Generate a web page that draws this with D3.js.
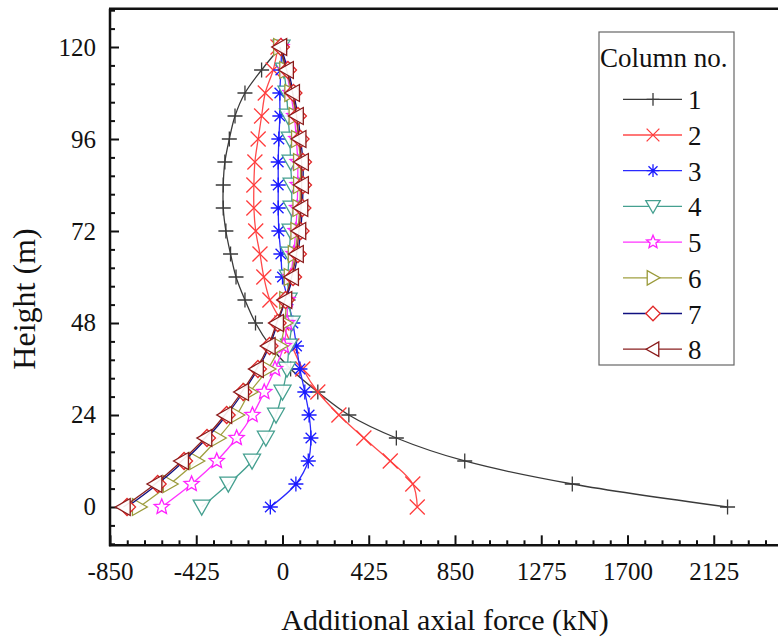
<!DOCTYPE html>
<html>
<head>
<meta charset="utf-8">
<script src="https://cdn.jsdelivr.net/npm/d3@7"></script>
<style>
  html, body { margin: 0; padding: 0; background: #fff; }
  svg { display: block; }
  text { font-family: "Liberation Serif", "Times New Roman", serif; fill: #111; }
</style>
</head>
<body>
<svg id="chart" width="778" height="639"></svg>
<script>
// Heights of the measured storeys (m)
const heights = [0, 6, 12, 18, 24, 30, 36, 42, 48, 54, 60, 66, 72, 78, 84, 90, 96, 102, 108, 114, 120];

// Additional axial force (kN) per column, bottom to top
const col1 = [2193, 1428, 898, 561, 327, 174, 40, -60, -133, -185, -229, -256, -279, -292, -292, -284, -262, -234, -185, -103, -10];
const col2 = [664, 642, 531, 401, 278, 174, 100, 46, -3, -62, -92, -111, -132, -141, -141, -136, -120, -103, -85, -46, -22];
const col3 = [-60, 66, 127, 140, 131, 110, 86, 69, 51, 27, 0, -8, -18, -21, -21, -21, -18, -13, -13, -8, -4];
const col4 = [-398, -267, -150, -82, -32, 0, 22, 32, 45, 30, 27, 33, 40, 45, 45, 40, 36, 27, 20, 7, -5];
const col5 = [-595, -448, -324, -226, -148, -90, -37, 6, 22, 25, 40, 55, 65, 72, 75, 75, 68, 58, 40, 18, -5];
const col6 = [-706, -554, -423, -317, -226, -160, -72, -13, 12, 20, 42, 62, 75, 85, 88, 88, 78, 66, 45, 20, -10];
const col7 = [-766, -615, -485, -372, -275, -193, -121, -64, -24, 15, 52, 76, 89, 98, 101, 101, 89, 76, 54, 27, -8];
const col8 = [-784, -628, -497, -382, -284, -201, -128, -70, -29, 12, 45, 69, 81, 91, 94, 94, 82, 69, 50, 20, -13];

const columnNames = ["1", "2", "3", "4", "5", "6", "7", "8"];
const xTicks = [-850, -425, 0, 425, 850, 1275, 1700, 2125];
const yTicks = [0, 24, 48, 72, 96, 120];

const legendTitle = "Column no.";
const xTitle = "Additional axial force (kN)";
const yTitle = "Height (m)";

// Styling for each column's curve and marker
const styles = [
  { line: "#3a3a3a", mark: "#3a3a3a", shape: "plus" },
  { line: "#ff4a4a", mark: "#ff3b3b", shape: "cross" },
  { line: "#2a2aff", mark: "#1a1aff", shape: "aster" },
  { line: "#45a090", mark: "#45a090", shape: "tridown" },
  { line: "#ff33ff", mark: "#ff22ff", shape: "star" },
  { line: "#a0a040", mark: "#9a9a3a", shape: "triright" },
  { line: "#101080", mark: "#e02828", shape: "diamond" },
  { line: "#8a2020", mark: "#8a1a1a", shape: "trileft" }
];
const seriesValues = [col1, col2, col3, col4, col5, col6, col7, col8];

const svg = d3.select("#chart");

const x = d3.scaleLinear().domain([-850, 2550]).range([110, 800]);
const y = d3.scaleLinear().domain([-10, 130]).range([545.33, 8.67]);

const plotLeft = x(-850), plotBottom = y(-10), plotTop = y(130);

// Marker path builders (centred on 0,0)
function markerPath(shape, s) {
  const p = d3.path();
  if (shape === "plus") {
    p.moveTo(-s, 0); p.lineTo(s, 0); p.moveTo(0, -s); p.lineTo(0, s);
  } else if (shape === "cross") {
    p.moveTo(-s, -s); p.lineTo(s, s); p.moveTo(-s, s); p.lineTo(s, -s);
  } else if (shape === "aster") {
    for (let k = 0; k < 4; k++) {
      const a = k * Math.PI / 4;
      p.moveTo(-s * Math.cos(a), -s * Math.sin(a));
      p.lineTo(s * Math.cos(a), s * Math.sin(a));
    }
  } else if (shape === "tridown") {
    p.moveTo(-s, -s * 0.8); p.lineTo(s, -s * 0.8); p.lineTo(0, s * 0.95); p.closePath();
  } else if (shape === "triright") {
    p.moveTo(-s * 0.8, -s); p.lineTo(-s * 0.8, s); p.lineTo(s * 0.95, 0); p.closePath();
  } else if (shape === "trileft") {
    p.moveTo(s * 0.8, -s); p.lineTo(s * 0.8, s); p.lineTo(-s * 0.95, 0); p.closePath();
  } else if (shape === "diamond") {
    p.moveTo(0, -s); p.lineTo(s, 0); p.lineTo(0, s); p.lineTo(-s, 0); p.closePath();
  } else if (shape === "star") {
    const r1 = s, r2 = s * 0.45;
    for (let k = 0; k < 10; k++) {
      const r = k % 2 === 0 ? r1 : r2;
      const a = -Math.PI / 2 + k * Math.PI / 5;
      if (k === 0) p.moveTo(r * Math.cos(a), r * Math.sin(a));
      else p.lineTo(r * Math.cos(a), r * Math.sin(a));
    }
    p.closePath();
  }
  return p.toString();
}
const markerSize = { plus: 7.5, cross: 7.5, aster: 7.5, tridown: 8.5, triright: 8.5, trileft: 8.5, diamond: 8.5, star: 8 };
const filled = { tridown: true, triright: true, trileft: true, diamond: true, star: true };

// Axes: major ticks with labels, minor ticks inward
const yMinor = d3.range(-9.6, 130, 4.8).filter(v => !yTicks.some(t => Math.abs(t - v) < 0.01));
const xMinor = d3.range(-850, 2551, 85).filter(v => !xTicks.includes(v));
const plain = d => String(d);

const axisFont = g => g.attr("font-family", "Liberation Serif, Times New Roman, serif").attr("font-size", 25);

svg.append("g").attr("transform", `translate(${plotLeft},0)`)
  .call(d3.axisLeft(y).tickValues(yTicks).tickFormat(plain).tickSizeInner(-9).tickSizeOuter(0).tickPadding(14))
  .call(axisFont);
svg.append("g").attr("transform", `translate(${plotLeft},0)`)
  .call(d3.axisLeft(y).tickValues(yMinor).tickSizeInner(-5).tickSizeOuter(0).tickFormat(""));

svg.append("g").attr("transform", `translate(0,${plotBottom})`)
  .call(d3.axisBottom(x).tickValues(xTicks).tickFormat(plain).tickSizeInner(-10).tickSizeOuter(0).tickPadding(17))
  .call(axisFont);
svg.append("g").attr("transform", `translate(0,${plotBottom})`)
  .call(d3.axisBottom(x).tickValues(xMinor).tickSizeInner(-5).tickSizeOuter(0).tickFormat(""));

svg.selectAll(".domain").remove();
svg.selectAll(".tick line").attr("stroke", "#111").attr("stroke-width", 2);
svg.selectAll(".tick text").attr("fill", "#111");

// Frame lines
svg.append("line").attr("x1", plotLeft).attr("x2", plotLeft).attr("y1", plotTop).attr("y2", plotBottom + 1)
  .attr("stroke", "#111").attr("stroke-width", 2.5);
svg.append("line").attr("x1", plotLeft - 1).attr("x2", 778).attr("y1", plotBottom).attr("y2", plotBottom)
  .attr("stroke", "#111").attr("stroke-width", 2.5);
svg.append("line").attr("x1", plotLeft - 1).attr("x2", 778).attr("y1", plotTop).attr("y2", plotTop)
  .attr("stroke", "#111").attr("stroke-width", 2.5);

// Curves
const line = d3.line()
  .x(d => x(d.v))
  .y(d => y(d.h))
  .curve(d3.curveCatmullRom.alpha(0.5));

const plot = svg.append("g");
seriesValues.forEach((vals, i) => {
  const st = styles[i];
  const pts = heights.map((h, k) => ({ h, v: vals[k] }));
  const g = plot.append("g");
  g.append("path").datum(pts).attr("d", line)
    .attr("fill", "none").attr("stroke", st.line).attr("stroke-width", 1.3);
  g.selectAll("path.m").data(pts).join("path").attr("class", "m")
    .attr("transform", d => `translate(${x(d.v)},${y(d.h)})`)
    .attr("d", markerPath(st.shape, markerSize[st.shape]))
    .attr("fill", filled[st.shape] ? "#fff" : "none")
    .attr("fill-opacity", filled[st.shape] ? 0.9 : 0)
    .attr("stroke", st.mark).attr("stroke-width", 1.3);
});

// Axis titles
svg.append("text").attr("x", 445).attr("y", 630).attr("text-anchor", "middle")
  .attr("font-size", 30).text(xTitle);
svg.append("text").attr("transform", "translate(35,299) rotate(-90)").attr("text-anchor", "middle")
  .attr("font-size", 32).text(yTitle);

// Legend
const lg = svg.append("g");
lg.append("rect").attr("x", 599).attr("y", 32).attr("width", 135).attr("height", 333)
  .attr("fill", "#fff").attr("stroke", "#666").attr("stroke-width", 1.2);
lg.append("text").attr("x", 600).attr("y", 67).attr("font-size", 27).text(legendTitle);
columnNames.forEach((name, i) => {
  const st = styles[i];
  const ly = 99.3 + i * 35.7;
  lg.append("line").attr("x1", 623).attr("x2", 682).attr("y1", ly).attr("y2", ly)
    .attr("stroke", st.line).attr("stroke-width", 1.3);
  lg.append("path").attr("transform", `translate(653,${ly})`)
    .attr("d", markerPath(st.shape, markerSize[st.shape] * 0.85))
    .attr("fill", filled[st.shape] ? "#fff" : "none")
    .attr("stroke", st.mark).attr("stroke-width", 1.3);
  lg.append("text").attr("x", 688).attr("y", ly + 10).attr("font-size", 27).text(name);
});
</script>
</body>
</html>
